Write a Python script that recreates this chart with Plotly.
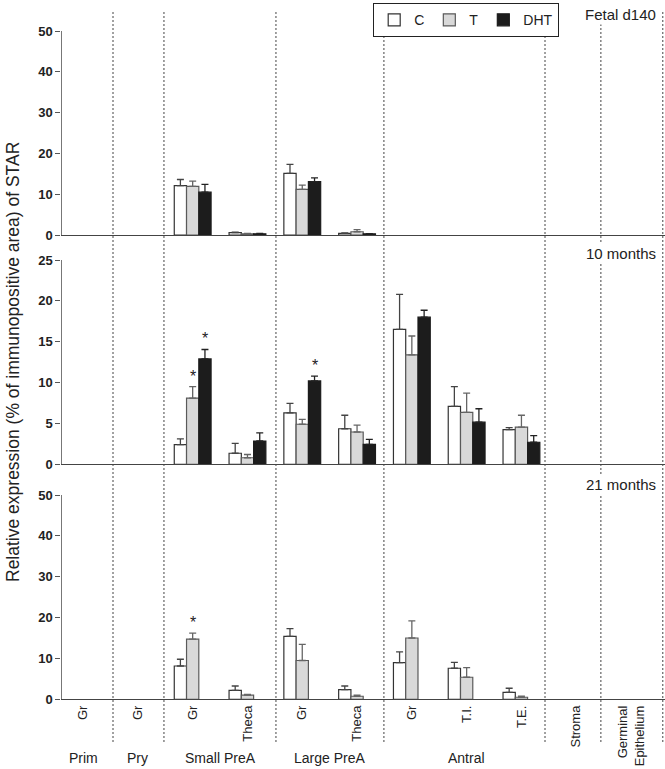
import plotly.graph_objects as go

# categories along x (one slot per compartment)
categories = ["Gr", "Gr", "Gr", "Theca", "Gr", "Theca", "Gr", "T.I.", "T.E.", "Stroma", "Germinal<br>Epithelium"]
follicle_groups = [("Prim", [0]), ("Pry", [1]), ("Small PreA", [2, 3]), ("Large PreA", [4, 5]), ("Antral", [6, 7, 8])]
separators = [0.546, 1.476, 3.52, 5.49, 8.43, 9.45, 10.58]

treatments = ["C", "T", "DHT"]

# Fetal d140 (mean, upper SEM)
fetal_c = [None, None, 12.1, 0.6, 15.1, 0.4, None, None, None, None, None]
fetal_c_err = [None, None, 1.5, 0.1, 2.2, 0.1, None, None, None, None, None]
fetal_t = [None, None, 11.9, 0.3, 11.2, 0.8, None, None, None, None, None]
fetal_t_err = [None, None, 1.3, 0.1, 1.0, 0.5, None, None, None, None, None]
fetal_dht = [None, None, 10.5, 0.3, 13.1, 0.3, None, None, None, None, None]
fetal_dht_err = [None, None, 1.9, 0.1, 0.9, 0.05, None, None, None, None, None]

# 10 months
m10_c = [None, None, 2.4, 1.35, 6.3, 4.35, 16.5, 7.1, 4.25, None, None]
m10_c_err = [None, None, 0.7, 1.2, 1.15, 1.65, 4.3, 2.4, 0.25, None, None]
m10_t = [None, None, 8.1, 0.8, 4.9, 3.95, 13.4, 6.35, 4.55, None, None]
m10_t_err = [None, None, 1.4, 0.4, 0.6, 0.85, 2.3, 2.35, 1.45, None, None]
m10_dht = [None, None, 12.9, 2.85, 10.2, 2.45, 18.0, 5.15, 2.7, None, None]
m10_dht_err = [None, None, 1.15, 1.0, 0.6, 0.6, 0.85, 1.65, 0.8, None, None]

# 21 months (no DHT group)
m21_c = [None, None, 8.15, 2.2, 15.4, 2.35, 9.0, 7.6, 1.7, None, None]
m21_c_err = [None, None, 1.65, 1.05, 1.9, 0.9, 2.6, 1.45, 1.0, None, None]
m21_t = [None, None, 14.75, 1.0, 9.5, 0.75, 15.0, 5.4, 0.5, None, None]
m21_t_err = [None, None, 1.45, 0.2, 3.95, 0.25, 4.2, 2.35, 0.3, None, None]
m21_dht = [None] * 11
m21_dht_err = [None] * 11

panels = [
    ("Fetal d140", 50, [(fetal_c, fetal_c_err), (fetal_t, fetal_t_err), (fetal_dht, fetal_dht_err)]),
    ("10 months", 25, [(m10_c, m10_c_err), (m10_t, m10_t_err), (m10_dht, m10_dht_err)]),
    ("21 months", 50, [(m21_c, m21_c_err), (m21_t, m21_t_err), (m21_dht, m21_dht_err)]),
]

# significant differences vs control: (panel index, treatment index, category index)
significant = [(1, 1, 2), (1, 2, 2), (1, 2, 4), (2, 1, 2)]

W, H = 665, 769
bar_w = 0.224
offsets = [-1.5 * bar_w, -0.5 * bar_w, 0.5 * bar_w]
fills = ["white", "#d9d9d9", "#1c1c1c"]
edges = ["#333333", "#5a5a5a", "#1c1c1c"]
err_cols = ["#444444", "#666666", "#222222"]

# panel placement in pixels (top of axis, zero line)
panel_px = [(31, 235), (260, 464.3), (495, 699.3)]
x_left_px = 61.5

narrow = "Liberation Sans Narrow, Arial Narrow, Liberation Sans, Arial, sans-serif"
sans = "Liberation Sans, Arial, sans-serif"

fig = go.Figure()
xs = list(range(len(categories)))

for p, (label, ymax, series) in enumerate(panels):
    xa = "x" if p == 0 else f"x{p + 1}"
    ya = "y" if p == 0 else f"y{p + 1}"
    for k, (vals, errs) in enumerate(series):
        fig.add_trace(go.Bar(
            x=xs, y=vals, xaxis=xa, yaxis=ya,
            name=treatments[k], legendgroup=treatments[k], showlegend=(p == 0),
            width=bar_w, offset=offsets[k],
            marker=dict(color=fills[k], line=dict(color=edges[k], width=1.2)),
            error_y=dict(type="data", array=errs, arrayminus=[0] * len(errs), symmetric=False,
                         color=err_cols[k], thickness=1.3, width=3.5),
        ))

layout_axes = {}
for p, (label, ymax, series) in enumerate(panels):
    top, zero = panel_px[p]
    sfx = "" if p == 0 else str(p + 1)
    layout_axes[f"xaxis{sfx}"] = dict(
        domain=[x_left_px / W, 1], range=[-0.394, 10.62], anchor=f"y{sfx}",
        showline=True, linecolor="#444444", linewidth=1.2, showgrid=False, zeroline=False,
        ticks="", showticklabels=(p == 2),
        tickvals=xs, ticktext=categories, tickangle=-90,
        tickfont=dict(family=narrow, size=13, color="#222222"),
        automargin=False,
    )
    layout_axes[f"yaxis{sfx}"] = dict(
        domain=[1 - zero / H, 1 - top / H], range=[0, ymax], anchor=f"x{sfx}",
        dtick=10 if ymax == 50 else 5,
        showline=True, linecolor="#777777", linewidth=1.2, showgrid=False, zeroline=False,
        ticks="outside", ticklen=5, tickcolor="#555555",
        tickfont=dict(family=narrow, size=13, color="#222222", weight="bold"),
        automargin=False,
    )

shapes = [
    dict(type="line", xref="x3", yref="paper", x0=s, x1=s, y0=1 - 742 / H, y1=1 - 12 / H,
         line=dict(color="#444444", width=1, dash="2px,2px"), layer="below")
    for s in separators
]

annotations = []
label_y_px = [14, 254, 484]
for p, (label, ymax, series) in enumerate(panels):
    annotations.append(dict(
        text=label, xref="paper", yref="paper", x=658 / W, y=1 - label_y_px[p] / H,
        xanchor="right", yanchor="middle", showarrow=False, bgcolor="white",
        font=dict(family=sans, size=15, color="#222222"),
    ))

for p, k, c in significant:
    vals, errs = panels[p][2][k]
    sfx = "" if p == 0 else str(p + 1)
    annotations.append(dict(
        text="*", xref=f"x{sfx}", yref=f"y{sfx}", x=c + offsets[k] + bar_w / 2, y=vals[c] + errs[c],
        xanchor="center", yanchor="bottom", yshift=0, showarrow=False,
        font=dict(family=sans, size=16, color="#222222"),
    ))

for name, members in follicle_groups:
    annotations.append(dict(
        text=name, xref="x3", yref="paper", x=sum(members) / len(members), y=1 - 758 / H,
        xanchor="center", yanchor="middle", showarrow=False,
        font=dict(family=narrow, size=14, color="#222222"),
    ))

annotations.append(dict(
    text="Relative expression (% of immunopositive area) of STAR",
    xref="paper", yref="paper", x=13 / W, y=1 - 362 / H, textangle=-90,
    xanchor="center", yanchor="middle", showarrow=False,
    font=dict(family=sans, size=17.5, color="#222222"),
))

fig.update_layout(
    width=W, height=H,
    margin=dict(l=0, r=0, t=0, b=0),
    paper_bgcolor="white", plot_bgcolor="rgba(0,0,0,0)",
    barmode="overlay",
    showlegend=True,
    legend=dict(
        orientation="h", x=373 / W, y=1 - 3 / H, xanchor="left", yanchor="top",
        bgcolor="white", bordercolor="#222222", borderwidth=1.2,
        font=dict(family=sans, size=14, color="#222222"),
        itemwidth=30, traceorder="normal",
    ),
    shapes=shapes,
    annotations=annotations,
    **layout_axes,
)

# drop the browser's default body margin so the figure sits at the page origin
fig.write_html(
    "out.html",
    config={"displayModeBar": False},
    post_script="document.body.style.margin='0';document.body.style.overflow='hidden';",
)
